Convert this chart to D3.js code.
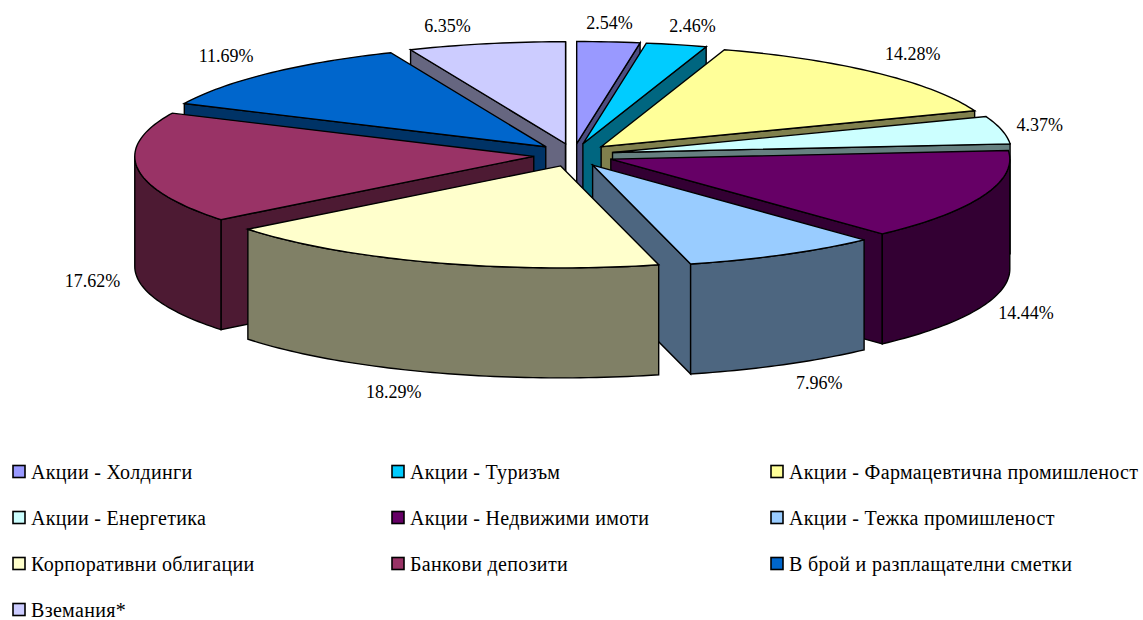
<!DOCTYPE html>
<html>
<head>
<meta charset="utf-8">
<script src="https://cdn.jsdelivr.net/npm/d3@7"></script>
<style>
  html, body { margin: 0; padding: 0; background: #fff; }
  text { font-family: "Liberation Serif", "Times New Roman", serif; fill: #000; }
</style>
</head>
<body>
<div id="chart"></div>
<script>
// Data
var categories = [
  "Акции - Холдинги",
  "Акции - Туризъм",
  "Акции - Фармацевтична промишленост",
  "Акции - Енергетика",
  "Акции - Недвижими имоти",
  "Акции - Тежка промишленост",
  "Корпоративни облигации",
  "Банкови депозити",
  "В брой и разплащателни сметки",
  "Вземания*"
];
var values = [2.54, 2.46, 14.28, 4.37, 14.44, 7.96, 18.29, 17.62, 11.69, 6.35];
var colors = ["#9999ff", "#00ccff", "#ffff99", "#ccffff", "#660066", "#99ccff", "#ffffcc", "#993366", "#0066cc", "#ccccff"];

// Label shift away from the rim of each slice
var labelNudge = [[1, -19], [16, -19], [36, -19], [38, -5], [43, 7], [36, 18], [-39, 19], [-45, 3], [-43, -17], [-39, -18]];

var width = 1143;
var height = 620;

// Pie geometry
var cx = 573.5;
var cy = 155;
var rx = 399;
var ry = 102;
var explodeX = 40;
var explodeY = 11.5;
var depth = 110;

var svg = d3
  .select("#chart")
  .append("svg")
  .attr("width", width)
  .attr("height", height)
  .style("display", "block");

var slices = d3.pie().sort(null).value((d) => d)(values);

slices.forEach(function (d, i) {
  var c = d3.rgb(colors[i]);
  d.color = colors[i];
  d.wall = d3.rgb(c.r * 0.5, c.g * 0.5, c.b * 0.5);
  d.mid = (d.startAngle + d.endAngle) / 2;
  d.ox = cx + explodeX * Math.sin(d.mid);
  d.oy = cy - explodeY * Math.cos(d.mid);
});

function rim(d, a, down) {
  return [d.ox + rx * Math.sin(a), d.oy - ry * Math.cos(a) + (down ? depth : 0)];
}

function arcPoints(d, a0, a1, down) {
  var n = Math.max(2, Math.ceil((a1 - a0) / 0.02));
  return d3.range(n + 1).map((k) => rim(d, a0 + ((a1 - a0) * k) / n, down));
}

var line = d3.line();

// Back slices first, front slices last
var order = slices.slice().sort((a, b) => Math.cos(b.mid) - Math.cos(a.mid));

var pie = svg.append("g").attr("stroke", "#000").attr("stroke-width", 1.4).attr("stroke-linejoin", "miter");

order.forEach(function (d) {
  var g = pie.append("g");
  var apex = [d.ox, d.oy];
  var apexDown = [d.ox, d.oy + depth];

  // Radial walls that face the viewer
  [d.startAngle, d.endAngle].forEach(function (a, i) {
    var normal = a + (i === 0 ? -Math.PI / 2 : Math.PI / 2);
    if (Math.cos(normal) < 0) {
      g.append("path")
        .attr("fill", d.wall)
        .attr("d", line([apex, rim(d, a, false), rim(d, a, true), apexDown]) + "Z");
    }
  });

  // Outer wall, only the front half of the rim
  var a0 = Math.max(d.startAngle, Math.PI / 2);
  var a1 = Math.min(d.endAngle, (3 * Math.PI) / 2);
  if (a1 > a0) {
    var pts = arcPoints(d, a0, a1, false).concat(arcPoints(d, a0, a1, true).reverse());
    g.append("path").attr("fill", d.wall).attr("d", line(pts) + "Z");
  }

  // Top face
  var top = [apex].concat(arcPoints(d, d.startAngle, d.endAngle, false));
  g.append("path").attr("fill", d.color).attr("d", line(top) + "Z");
});

// Percentage labels
svg
  .append("g")
  .selectAll("text")
  .data(slices)
  .enter()
  .append("text")
  .attr("text-anchor", "middle")
  .attr("font-size", "18px")
  .attr("x", function (d, i) {
    return cx + (explodeX + rx) * Math.sin(d.mid) + labelNudge[i][0];
  })
  .attr("y", function (d, i) {
    var front = d.mid > Math.PI / 2 && d.mid < (3 * Math.PI) / 2;
    return cy - (explodeY + ry) * Math.cos(d.mid) + (front ? depth : 0) + labelNudge[i][1] + 6;
  })
  .text((d) => d.value.toFixed(2) + "%");

// Legend, three columns
var legendX = d3.scalePoint().domain([0, 1, 2]).range([12, 770]);
var legendY = d3.scalePoint().domain([0, 1, 2, 3]).range([472, 610]);

var legend = svg
  .append("g")
  .selectAll("g")
  .data(categories)
  .enter()
  .append("g")
  .attr("transform", (d, i) => "translate(" + legendX(i % 3) + "," + legendY(Math.floor(i / 3)) + ")");

legend
  .append("rect")
  .attr("x", 1)
  .attr("y", -6.5)
  .attr("width", 12)
  .attr("height", 12)
  .attr("fill", (d, i) => colors[i])
  .attr("stroke", "#000")
  .attr("stroke-width", 1.6);

legend
  .append("text")
  .attr("x", 19)
  .attr("y", 7)
  .attr("font-size", "20px")
  .attr("letter-spacing", "0.33px")
  .text((d) => d);
</script>
</body>
</html>
